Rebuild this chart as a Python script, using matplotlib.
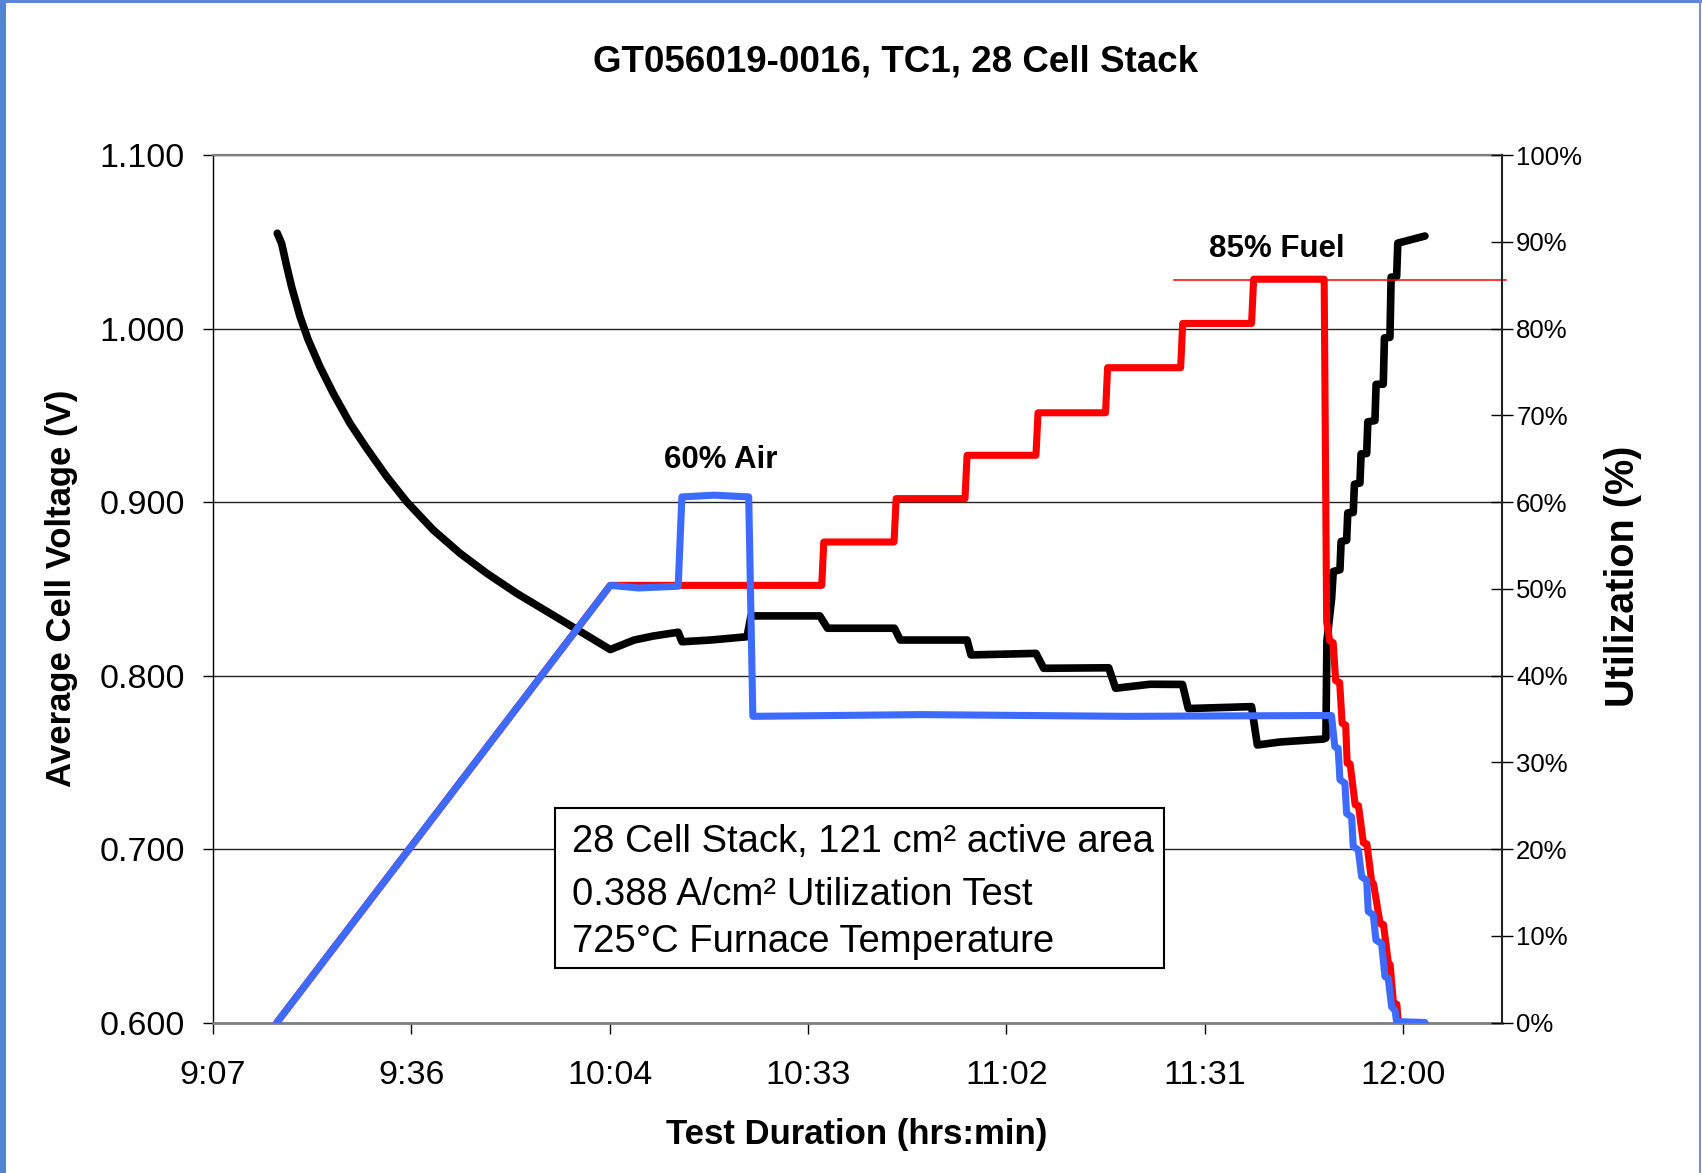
import matplotlib
matplotlib.use('Agg')
import matplotlib.pyplot as plt
from matplotlib.patches import Rectangle
from matplotlib.ticker import FixedLocator, FuncFormatter

plt.rcParams['font.family'] = ['Liberation Sans', 'DejaVu Sans']

# time in minutes after midnight
t_volt = [556.56, 557.20, 557.93, 558.65, 559.86, 561.06, 562.76, 564.69, 567.12, 569.54,
          572.45, 575.35, 579.21, 583.09, 586.96, 591.32, 596.15, 600.98, 604.90,
          608.37, 611.15, 614.76, 615.31, 619.48, 624.76, 625.32, 635.32, 636.44,
          646.15, 647.00, 656.70, 657.27, 666.70, 667.82, 677.26, 678.26, 683.25,
          687.97, 688.81, 698.00, 698.84, 702.10, 708.40, 708.79, 708.94, 709.62, 709.86,
          710.83, 711.00, 711.80, 711.97, 712.76, 712.93, 713.73, 713.90, 714.71, 714.88,
          715.91, 716.08, 717.12, 717.29, 718.09, 718.26, 719.06, 719.23, 723.17]
v_cell = [1.055, 1.049, 1.036, 1.024, 1.007, 0.9935, 0.978, 0.9627, 0.9454, 0.931,
          0.9147, 0.9002, 0.8839, 0.8705, 0.859, 0.8474, 0.8359, 0.8244, 0.8150,
          0.8205, 0.8228, 0.8250, 0.8195, 0.8205, 0.8224, 0.8344, 0.8344, 0.8273,
          0.8273, 0.8205, 0.8205, 0.8119, 0.8128, 0.8042, 0.8045, 0.7927, 0.7950,
          0.7949, 0.7810, 0.7821, 0.7600, 0.7617, 0.7634, 0.7640, 0.820, 0.8444, 0.860,
          0.861, 0.8773, 0.878, 0.8938, 0.894, 0.9103, 0.911, 0.9278, 0.928, 0.9463,
          0.947, 0.9679, 0.968, 0.9947, 0.995, 1.0297, 1.030, 1.0493, 1.0534]

t_fuel = [556.5, 604.9, 635.6, 635.9, 646.1, 646.4, 656.4, 656.7, 666.7, 667.0,
          676.8, 677.1, 687.7, 688.0, 698.0, 698.3, 708.54, 708.90, 709.34, 709.85,
          710.21, 710.79, 711.15, 711.66, 711.88, 712.31, 713.04, 713.52, 714.24, 714.74,
          715.46, 715.70, 716.67, 717.15, 717.87, 718.12, 718.60, 719.09, 719.30, 719.84]
u_fuel = [0, 50.4, 50.4, 55.4, 55.4, 60.4, 60.4, 65.4, 65.4, 70.3,
          70.3, 75.5, 75.5, 80.6, 80.6, 85.7, 85.7, 46.2, 44.0, 43.8,
          39.4, 39.2, 34.5, 34.3, 29.9, 29.8, 25.1, 25.0, 20.7, 20.6,
          16.1, 16.0, 11.4, 11.3, 6.8, 6.7, 2.2, 2.1, 0.0, 0.0]

t_air = [556.5, 604.9, 609.0, 614.76, 615.3, 620.0, 625.0, 625.6, 650.0, 680.0, 709.6,
         710.09, 710.57, 710.83, 711.55, 711.80, 712.53, 712.76, 713.49, 713.98, 714.71,
         714.94, 715.67, 716.06, 716.88, 717.36, 717.84, 718.34, 718.82, 719.06, 723.17]
u_air = [0, 50.4, 50.1, 50.3, 60.6, 60.8, 60.6, 35.3, 35.5, 35.3, 35.4,
         31.8, 31.6, 28.0, 27.6, 24.1, 23.7, 20.3, 19.9, 16.8, 16.4,
         12.8, 12.4, 9.5, 9.1, 5.3, 5.1, 1.8, 1.4, 0.1, 0.0]

fuel_limit_t = [686.8, 735.0]
fuel_limit_u = [85.6, 85.6]

x_ticks = [547.2, 576.0, 604.8, 633.6, 662.4, 691.2, 720.0]
x_labels = ['9:07', '9:36', '10:04', '10:33', '11:02', '11:31', '12:00']
v_ticks = [0.6, 0.7, 0.8, 0.9, 1.0, 1.1]
u_ticks = [0, 10, 20, 30, 40, 50, 60, 70, 80, 90, 100]

W, H = 1702, 1173
fig = plt.figure(figsize=(W / 100, H / 100), dpi=100)
ax = fig.add_axes([212.8 / W, 1 - 1022.5 / H, 1289.5 / W, 867.3 / H])
ax2 = ax.twinx()

# voltage on the left axis
ax.plot(t_volt, v_cell, color='black', lw=5.5, solid_joinstyle='round', solid_capstyle='round', zorder=3)
ax.set_xlim(547.2, 734.4)
ax.set_ylim(0.6, 1.1)
ax.set_yticks(v_ticks)
ax.yaxis.set_major_formatter(FuncFormatter(lambda v, p: '%.3f' % v))
ax.set_xticks(x_ticks)
ax.set_xticklabels(x_labels)
ax.grid(axis='y', color='#222222', lw=1.0, zorder=0)
ax.tick_params(axis='y', direction='out', length=7, width=1, pad=13, labelsize=24.5)
ax.tick_params(axis='x', direction='out', length=8, width=1, pad=19, labelsize=24.5)
ax.spines['left'].set_color('black')
ax.spines['left'].set_linewidth(1.0)
ax.spines['bottom'].set_color('#7f7f7f')
ax.spines['bottom'].set_linewidth(2.0)
ax.spines['top'].set_color('#7f7f7f')
ax.spines['top'].set_linewidth(1.6)
ax.spines['right'].set_visible(False)

# utilization on the right axis
ax2.plot(t_fuel, u_fuel, color='#ff0000', lw=5.1, solid_joinstyle='round', solid_capstyle='round', zorder=3)
ax2.plot(t_air, u_air, color='#3d6bff', lw=5.1, solid_joinstyle='round', solid_capstyle='round', zorder=4)
ax2.plot(fuel_limit_t, fuel_limit_u, color='#ff0000', lw=1.1, clip_on=False, zorder=2)
ax2.set_ylim(0, 100)
ax2.yaxis.set_major_locator(FixedLocator(u_ticks))
ax2.yaxis.set_major_formatter(FuncFormatter(lambda v, p: '%d%%' % v))
ax2.tick_params(axis='y', direction='inout', length=16, width=1, pad=2, labelsize=18.5)
ax2.spines['right'].set_color('#222222')
ax2.spines['right'].set_linewidth(1.5)
for s in ['left', 'top', 'bottom']:
    ax2.spines[s].set_visible(False)

ax2.text(621.0, (0.9242 - 0.6) * 200, '60% Air', fontsize=22.5, fontweight='bold',
         ha='center', va='center')
ax2.text(701.7, (1.0462 - 0.6) * 200, '85% Fuel', fontsize=22.5, fontweight='bold',
         ha='center', va='center')

# info box
ax2.add_patch(Rectangle((0.2651, 0.0625), 0.4723, 0.1853, transform=ax2.transAxes,
                        facecolor='white', edgecolor='black', lw=1.5, zorder=5))
box_lines = ['28 Cell Stack, 121 cm\u00b2 active area',
             '0.388 A/cm\u00b2 Utilization Test',
             '725\u00b0C Furnace Temperature']
for txt, yy in zip(box_lines, [0.1969, 0.1355, 0.0816]):
    ax2.text(0.2782, yy, txt, transform=ax2.transAxes, fontsize=27.5,
             ha='left', va='baseline', zorder=6)

fig.text(896 / W, 1 - 61.9 / H, 'GT056019-0016, TC1, 28 Cell Stack', fontsize=26.5,
         fontweight='bold', ha='center', va='center')
fig.text(62 / W, 1 - 588 / H, 'Average Cell Voltage (V)', fontsize=25, fontweight='bold',
         rotation=90, ha='center', va='center')
fig.text(1622.8 / W, 1 - 576.4 / H, 'Utilization (%)', fontsize=28.5, fontweight='bold',
         rotation=90, ha='center', va='center')
fig.text(857 / W, 1 - 1134.3 / H, 'Test Duration (hrs:min)', fontsize=25, fontweight='bold',
         ha='center', va='center')

# slide border visible in the screenshot
fig.add_artist(Rectangle((0, 0), 6 / W, 1, transform=fig.transFigure, color='#5582d2', lw=0))
fig.add_artist(Rectangle((0, 1 - 3 / H), 1, 3 / H, transform=fig.transFigure, color='#5a86d4', lw=0))
fig.add_artist(Rectangle((1699 / W, 0), 1.5 / W, 1, transform=fig.transFigure, color='#7d8fc4', lw=0))

fig.savefig('out.png', dpi=100)
